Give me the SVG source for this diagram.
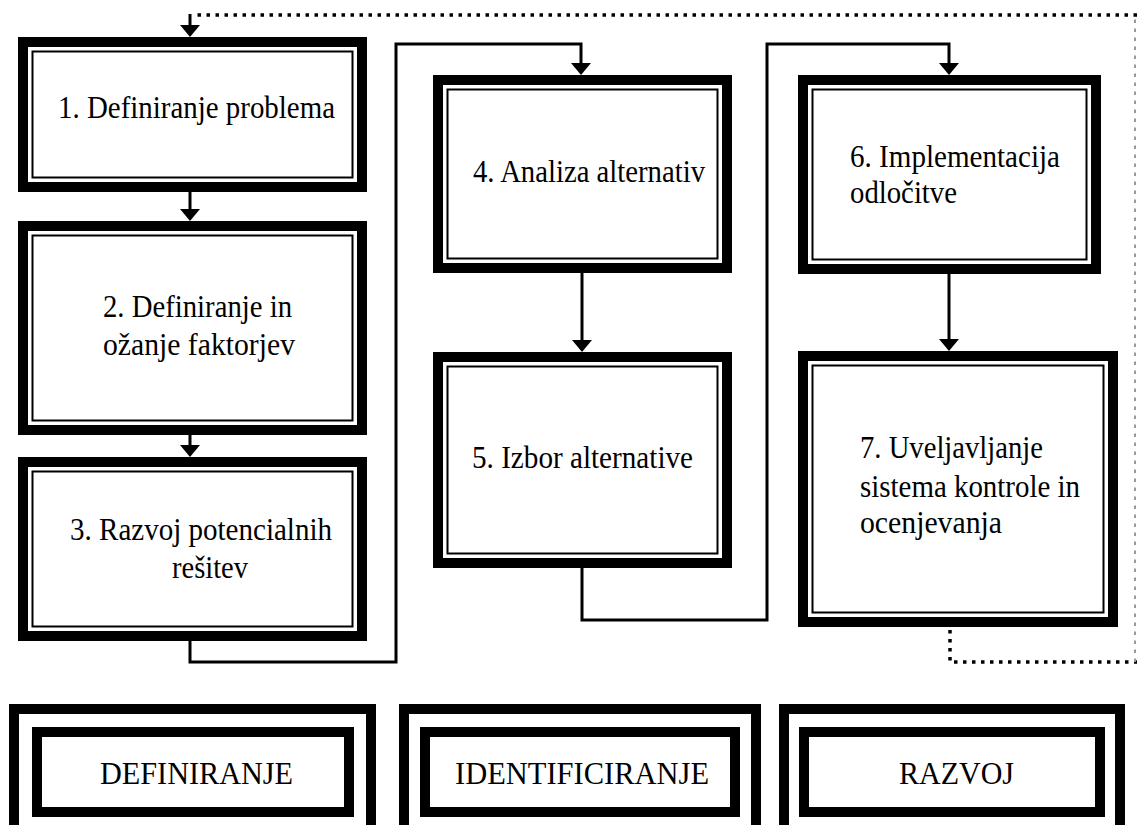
<svg xmlns="http://www.w3.org/2000/svg" width="1137" height="825" viewBox="0 0 1137 825">
<style>
.ob{fill:#fff;stroke:#000;stroke-width:10}
.ib{fill:none;stroke:#000;stroke-width:2}
.tb{fill:none;stroke:#000;stroke-width:10}
.t{font-family:"Liberation Serif","Times New Roman","DejaVu Serif",serif;font-size:32px;fill:#000}
.c{fill:none;stroke:#000;stroke-width:3}
.d{fill:none;stroke:#000;stroke-width:3.5;stroke-dasharray:3.5 5.5}
</style>
<defs>
<marker id="ah" markerUnits="userSpaceOnUse" markerWidth="13" markerHeight="20" viewBox="0 0 12 20" refX="0.5" refY="10" orient="auto">
<path d="M0,0 L12,10 L0,20 Z" fill="#000"/>
</marker>
</defs>
<rect width="1137" height="825" fill="#fff"/>
<g id="connectors">
<path class="c" d="M190,192 V209.5" marker-end="url(#ah)"/>
<path class="c" d="M190,435 V445.5" marker-end="url(#ah)"/>
<path class="c" d="M190,641 V662 H396 V44 H581 V63.5" marker-end="url(#ah)"/>
<path class="c" d="M582,273 V340.5" marker-end="url(#ah)"/>
<path class="c" d="M582,568 V620 H767 V44 H949 V63.5" marker-end="url(#ah)"/>
<path class="c" d="M949,274 V339.5" marker-end="url(#ah)"/>
<path class="d" d="M950,630 V662 H1137"/>
<path d="M1135,662 V15" fill="none" stroke="#999" stroke-width="2" stroke-dasharray="3.5 5.5"/>
<path class="d" d="M1137,15 H192"/>
<path class="c" d="M190,14 V25.5" marker-end="url(#ah)"/>
</g>
<g id="n1">
<rect class="ob" x="23" y="42" width="339" height="145"/>
<rect class="ib" x="32.5" y="51.5" width="320" height="126"/>
<text class="t" x="58" y="118" textLength="277" lengthAdjust="spacingAndGlyphs">1. Definiranje problema</text>
</g>
<g id="n2">
<rect class="ob" x="23" y="226" width="339" height="204"/>
<rect class="ib" x="32.5" y="235.5" width="320" height="185"/>
<text class="t" x="103" y="317" textLength="189" lengthAdjust="spacingAndGlyphs">2. Definiranje in</text>
<text class="t" x="103" y="355" textLength="192" lengthAdjust="spacingAndGlyphs">ožanje faktorjev</text>
</g>
<g id="n3">
<rect class="ob" x="23" y="462" width="339" height="174"/>
<rect class="ib" x="32.5" y="471.5" width="320" height="155"/>
<text class="t" x="70" y="540" textLength="262" lengthAdjust="spacingAndGlyphs">3. Razvoj potencialnih</text>
<text class="t" x="172" y="578" textLength="76" lengthAdjust="spacingAndGlyphs">rešitev</text>
</g>
<g id="n4">
<rect class="ob" x="438" y="80" width="289" height="188"/>
<rect class="ib" x="447.5" y="89.5" width="270" height="169"/>
<text class="t" x="473" y="182" textLength="232" lengthAdjust="spacingAndGlyphs">4. Analiza alternativ</text>
</g>
<g id="n5">
<rect class="ob" x="438" y="357" width="289" height="206"/>
<rect class="ib" x="447.5" y="366.5" width="270" height="187"/>
<text class="t" x="472" y="468" textLength="221" lengthAdjust="spacingAndGlyphs">5. Izbor alternative</text>
</g>
<g id="n6">
<rect class="ob" x="803" y="80" width="293" height="189"/>
<rect class="ib" x="812.5" y="89.5" width="274" height="170"/>
<text class="t" x="850" y="167" textLength="210" lengthAdjust="spacingAndGlyphs">6. Implementacija</text>
<text class="t" x="850" y="203" textLength="107" lengthAdjust="spacingAndGlyphs">odločitve</text>
</g>
<g id="n7">
<rect class="ob" x="803" y="356" width="310" height="266"/>
<rect class="ib" x="812.5" y="365.5" width="291" height="247"/>
<text class="t" x="860" y="458" textLength="183" lengthAdjust="spacingAndGlyphs">7. Uveljavljanje</text>
<text class="t" x="860" y="497" textLength="220" lengthAdjust="spacingAndGlyphs">sistema kontrole in</text>
<text class="t" x="860" y="533" textLength="142" lengthAdjust="spacingAndGlyphs">ocenjevanja</text>
</g>
<g id="lbl-definiranje">
<rect class="ob" x="14" y="709" width="357" height="124"/>
<rect class="tb" x="37" y="732" width="312" height="80"/>
<text class="t" x="100" y="784" textLength="193" lengthAdjust="spacingAndGlyphs">DEFINIRANJE</text>
</g>
<g id="lbl-identificiranje">
<rect class="ob" x="404" y="709" width="352" height="124"/>
<rect class="tb" x="425" y="732" width="310" height="80"/>
<text class="t" x="455" y="784" textLength="254" lengthAdjust="spacingAndGlyphs">IDENTIFICIRANJE</text>
</g>
<g id="lbl-razvoj">
<rect class="ob" x="784" y="709" width="336" height="124"/>
<rect class="tb" x="804" y="732" width="296" height="80"/>
<text class="t" x="899" y="784" textLength="115" lengthAdjust="spacingAndGlyphs">RAZVOJ</text>
</g>
</svg>
